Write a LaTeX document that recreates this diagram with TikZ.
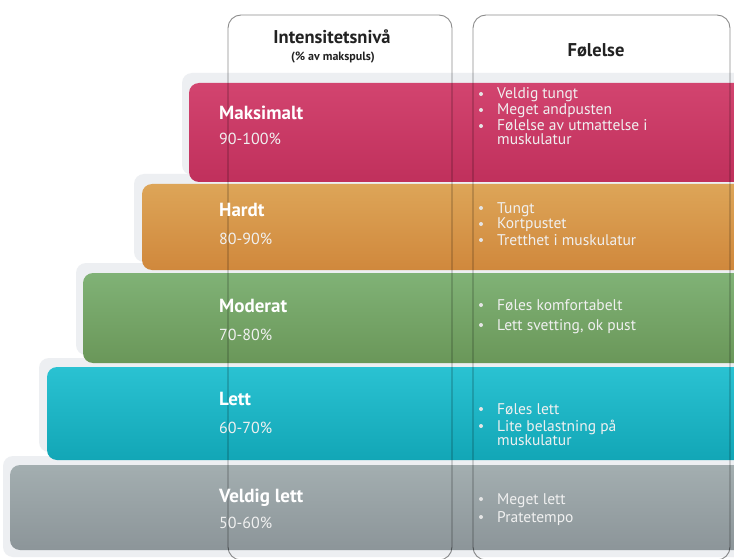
\documentclass[tikz,border=0pt]{standalone}
\usepackage{fontspec}
\setmainfont{PT Sans}
\definecolor{shadowgray}{HTML}{EDEFF2}
\definecolor{maxtop}{HTML}{D2446F}
\definecolor{maxbot}{HTML}{C0305C}
\definecolor{hardtop}{HTML}{DDA558}
\definecolor{hardbot}{HTML}{D0883C}
\definecolor{modtop}{HTML}{80B276}
\definecolor{modbot}{HTML}{6A9759}
\definecolor{letttop}{HTML}{2AC2D2}
\definecolor{lettbot}{HTML}{12A6B6}
\definecolor{vltop}{HTML}{A3AEB0}
\definecolor{vlbot}{HTML}{8C9599}
\definecolor{headtext}{HTML}{222222}
\begin{document}
\begin{tikzpicture}[x=1pt,y=-1pt,
  bandbox/.style={rounded corners=10pt},
  shadowband/.style={fill=shadowgray, rounded corners=10pt},
  colbox/.style={draw=black, draw opacity=0.45, line width=0.9pt, rounded corners=13pt},
  lbl/.style={anchor=base west, inner sep=0pt, text=white, font=\fontsize{19}{19}\selectfont\bfseries},
  pct/.style={anchor=base west, inner sep=0pt, text=white!94!black, font=\fontsize{16}{16}\selectfont},
  item/.style={anchor=base west, inner sep=0pt, text=white!94!black, font=\fontsize{15.5}{15.5}\selectfont},
  dotmark/.style={circle, fill=white!90!black, inner sep=0pt, minimum size=4pt},
  headbig/.style={anchor=base, inner sep=0pt, text=headtext, font=\fontsize{18.5}{18.5}\selectfont\bfseries},
  headsmall/.style={anchor=base, inner sep=0pt, text=headtext, font=\fontsize{12}{12}\selectfont\bfseries}
]
\useasboundingbox (0,0) rectangle (734,559);
\fill[white] (0,0) rectangle (734,559);

% shadows of the steps
\fill[shadowband] (182,73) rectangle (760,175);
\fill[shadowband] (134,174) rectangle (760,262);
\fill[shadowband] (76,263) rectangle (760,355);
\fill[shadowband] (39,358) rectangle (760,452);
\fill[shadowband] (3,456) rectangle (760,557);

% bands
\shade[bandbox, top color=maxtop, bottom color=maxbot] (189,83) rectangle (760,182);
\shade[bandbox, top color=hardtop, bottom color=hardbot] (142,184) rectangle (760,270);
\shade[bandbox, top color=modtop, bottom color=modbot] (83,273) rectangle (760,363);
\shade[bandbox, top color=letttop, bottom color=lettbot] (47,367) rectangle (760,460);
\shade[bandbox, top color=vltop, bottom color=vlbot] (10,465) rectangle (760,550);

% column boxes
\draw[colbox] (228,15) rectangle (452,560);
\draw[colbox] (473,15) rectangle (730,560);

% headers
\node[headbig] (h1) at (332,44) {Intensitetsnivå};
\node[headsmall] (h1s) at (333,61) {(\% av makspuls)};
\node[headbig] (h2) at (596,57) {Følelse};

% Maksimalt
\node[lbl] (l1) at (219,120) {Maksimalt};
\node[pct] (p1) at (219,145) {90-100\%};
\node[dotmark] (d1a) at (481,94) {};
\node[item] (t1a) at (497,99) {Veldig tungt};
\node[dotmark] (d1b) at (481,110) {};
\node[item] (t1b) at (497,115) {Meget andpusten};
\node[dotmark] (d1c) at (481,126) {};
\node[item] (t1c) at (497,131) {Følelse av utmattelse i};
\node[item] (t1d) at (497,145) {muskulatur};

% Hardt
\node[lbl] (l2) at (219,216) {Hardt};
\node[pct] (p2) at (219,244) {80-90\%};
\node[dotmark] (d2a) at (481,208) {};
\node[item] (t2a) at (497,213) {Tungt};
\node[dotmark] (d2b) at (481,224) {};
\node[item] (t2b) at (497,229) {Kortpustet};
\node[dotmark] (d2c) at (481,240) {};
\node[item] (t2c) at (497,245) {Tretthet i muskulatur};

% Moderat
\node[lbl] (l3) at (219,312) {Moderat};
\node[pct] (p3) at (219,340) {70-80\%};
\node[dotmark] (d3a) at (481,305) {};
\node[item] (t3a) at (497,310) {Føles komfortabelt};
\node[dotmark] (d3b) at (481,325) {};
\node[item] (t3b) at (497,330) {Lett svetting, ok pust};

% Lett
\node[lbl] (l4) at (219,405) {Lett};
\node[pct] (p4) at (219,433) {60-70\%};
\node[dotmark] (d4a) at (481,409) {};
\node[item] (t4a) at (497,414) {Føles lett};
\node[dotmark] (d4b) at (481,426) {};
\node[item] (t4b) at (497,431) {Lite belastning på};
\node[item] (t4c) at (497,445) {muskulatur};

% Veldig lett
\node[lbl] (l5) at (219,502) {Veldig lett};
\node[pct] (p5) at (219,528) {50-60\%};
\node[dotmark] (d5a) at (481,499) {};
\node[item] (t5a) at (497,504) {Meget lett};
\node[dotmark] (d5b) at (481,517) {};
\node[item] (t5b) at (497,522) {Pratetempo};
\end{tikzpicture}
\end{document}
